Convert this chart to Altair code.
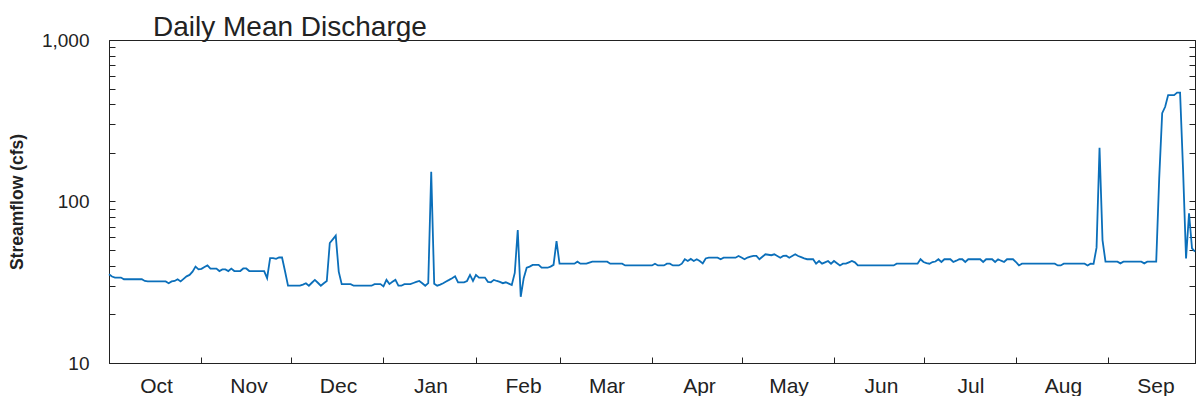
import altair as alt
import pandas as pd

# Daily mean discharge (cfs), water year Oct 1 - Sep 30, one list per month
oct_v = [35.4, 34.3, 33.8, 33.8, 33.8, 33.0, 33.0, 33.0, 33.0, 33.0, 33.0, 33.0, 32.2,
         32.0, 32.0, 32.0, 32.0, 32.0, 32.0, 32.0, 31.2, 32.0, 32.2, 33.0, 32.0, 33.2,
         34.4, 35.1, 36.8, 39.5, 38.0]
nov_v = [38.3, 39.3, 40.2, 38.4, 38.4, 38.4, 37.1, 38.0, 38.0, 37.1, 38.4, 37.1, 37.1,
         37.1, 38.5, 38.5, 37.1, 37.1, 37.1, 37.1, 37.1, 37.1, 33.5, 44.6, 44.6, 44.2,
         45.0, 45.0, 37.0, 30.1]
dec_v = [30.1, 30.1, 30.1, 30.1, 30.6, 31.2, 30.1, 31.4, 32.7, 31.4, 30.1, 31.2, 32.2,
         55.3, 58.3, 61.5, 36.8, 30.8, 30.8, 30.8, 30.8, 30.1, 30.1, 30.1, 30.1, 30.1,
         30.1, 30.1, 30.8, 30.8, 30.8]
jan_v = [29.8, 32.7, 30.8, 31.8, 32.7, 30.1, 30.1, 30.8, 30.8, 30.8, 31.3, 31.8, 32.2,
         31.2, 30.1, 31.2, 153.0, 31.0, 30.1, 30.6, 31.2, 32.0, 32.7, 33.5, 34.4, 31.6,
         31.6, 31.6, 32.2, 35.1, 32.2]
feb_v = [35.1, 33.8, 33.8, 33.8, 31.8, 31.6, 32.7, 32.2, 31.8, 31.2, 31.6, 31.0, 30.4,
         36.1, 66.6, 25.7, 33.5, 38.9, 39.5, 40.5, 40.5, 40.5, 38.9, 38.9, 38.9, 39.5,
         40.5, 56.9]
mar_v = [41.2, 41.2, 41.2, 41.2, 41.2, 41.2, 42.4, 41.2, 41.2, 41.2, 41.8, 42.4, 42.4,
         42.4, 42.4, 42.4, 42.4, 41.2, 41.2, 41.2, 41.2, 41.2, 40.2, 40.2, 40.2, 40.2,
         40.2, 40.2, 40.2, 40.2, 40.2]
apr_v = [40.2, 41.2, 40.2, 40.2, 40.2, 41.2, 41.2, 40.2, 40.2, 40.2, 41.2, 43.9, 42.8,
         44.1, 42.8, 43.9, 42.8, 41.4, 44.4, 44.9, 44.9, 44.9, 44.9, 43.9, 44.9, 44.9,
         44.9, 44.9, 44.9, 46.0]
may_v = [45.0, 43.9, 45.0, 45.5, 46.0, 46.0, 43.9, 45.5, 47.1, 46.8, 46.5, 47.1, 46.0,
         44.9, 46.0, 46.2, 44.9, 46.0, 47.1, 46.0, 45.2, 44.4, 43.9, 43.9, 43.9, 41.2,
         42.8, 41.2, 42.0, 42.8, 41.2]
jun_v = [42.8, 41.5, 40.2, 41.2, 41.2, 42.0, 42.8, 42.0, 40.2, 40.2, 40.2, 40.2, 40.2,
         40.2, 40.2, 40.2, 40.2, 40.2, 40.2, 40.2, 40.2, 41.2, 41.2, 41.2, 41.2, 41.2,
         41.2, 41.2, 41.2, 43.9]
jul_v = [42.2, 41.5, 41.2, 42.2, 42.5, 43.9, 42.2, 43.9, 43.9, 43.9, 42.2, 43.0, 43.9,
         43.9, 42.2, 43.9, 43.9, 43.9, 43.9, 43.9, 42.2, 43.9, 43.9, 43.9, 42.2, 43.9,
         43.0, 42.2, 43.9, 43.9, 43.9]
aug_v = [42.2, 40.2, 41.2, 41.2, 41.2, 41.2, 41.2, 41.2, 41.2, 41.2, 41.2, 41.2, 41.2,
         41.2, 40.2, 40.2, 41.2, 41.2, 41.2, 41.2, 41.2, 41.2, 41.2, 41.2, 40.2, 41.2,
         41.1, 51.8, 215.0, 57.7, 42.4]
sep_v = [42.4, 42.4, 42.4, 42.4, 41.4, 42.4, 42.4, 42.4, 42.4, 42.4, 42.4, 42.4, 41.4,
         42.4, 42.4, 42.4, 42.4, 139.0, 352.0, 386.0, 456.0, 456.0, 456.0, 472.0, 472.0,
         157.0, 44.4, 84.5, 51.3, 48.9]

flow = (oct_v + nov_v + dec_v + jan_v + feb_v + mar_v + apr_v + may_v + jun_v
        + jul_v + aug_v + sep_v)
dates = pd.date_range("2022-10-01", periods=len(flow), freq="D")
df = pd.DataFrame({"date": dates.strftime("%Y-%m-%d"), "flow": flow})

y_ticks = [10, 20, 30, 40, 50, 60, 70, 80, 90, 100, 200, 300, 400, 500, 600, 700,
           800, 900, 1000]
month_starts = pd.date_range("2022-10-01", "2023-09-01", freq="MS")
x_ticks = [alt.DateTime(year=int(d.year), month=int(d.month), date=1, utc=True)
           for d in month_starts]

ink = "#222222"
font = "Liberation Sans"

x_scale = alt.Scale(type="utc", nice=False,
                    domain=[alt.DateTime(year=2022, month=10, date=1, utc=True),
                            alt.DateTime(year=2023, month=9, date=30, utc=True)])
x_axis = alt.Axis(values=x_ticks, title=None, grid=False,
                  labelExpr="utcFormat(datum.value, '%b')",
                  labelOffset=47, labelPadding=18, labelFontSize=21,
                  tickSize={"expr": "-6"}, labelOverlap=False, labelFlush=False,
                  domainColor=ink, tickColor=ink, labelColor=ink, labelFont=font)

y_scale = alt.Scale(type="log", domain=[10, 1000], nice=False)

line = alt.Chart(df).mark_line(color="#0b6fba", strokeWidth=1.8).encode(
    x=alt.X("date:T", scale=x_scale, axis=x_axis),
    y=alt.Y("flow:Q", scale=y_scale,
            axis=alt.Axis(values=y_ticks, orient="left", grid=False,
                          title="Streamflow (cfs)", titleFontSize=17.5,
                          titleFontWeight="bold", titleFont=font, titleColor=ink,
                          titlePadding=15,
                          labelExpr="datum.value == 10 || datum.value == 100 || datum.value == 1000 ? format(datum.value, ',') : ''",
                          labelFontSize=19, labelPadding=26, labelOverlap=False,
                          tickSize={"expr": "-6"},
                          domainColor=ink, tickColor=ink, labelColor=ink,
                          labelFont=font)),
)

right = alt.Chart(df).mark_line(strokeOpacity=0).encode(
    x=alt.X("date:T", scale=x_scale, axis=x_axis),
    y=alt.Y("flow:Q", scale=y_scale,
            axis=alt.Axis(values=y_ticks, orient="right", grid=False, title=None,
                          labels=False, tickSize={"expr": "-6"},
                          domainColor=ink, tickColor=ink)),
)

chart = (
    alt.layer(line, right)
    .resolve_axis(y="independent")
    .properties(
        width=1086, height=323,
        autosize=alt.AutoSizeParams(type="none"),
        padding={"left": 101, "top": 32, "right": 1, "bottom": 33},
        background="white",
        title=alt.TitleParams("Daily Mean Discharge", anchor="start", frame="group",
                              dx=44, dy=10.5, fontSize=28, fontWeight="normal",
                              font=font, color=ink, offset=0),
    )
    .configure_view(stroke=ink, strokeWidth=1)
)

chart.save("out.html", embed_options={"renderer": "svg", "actions": False})
